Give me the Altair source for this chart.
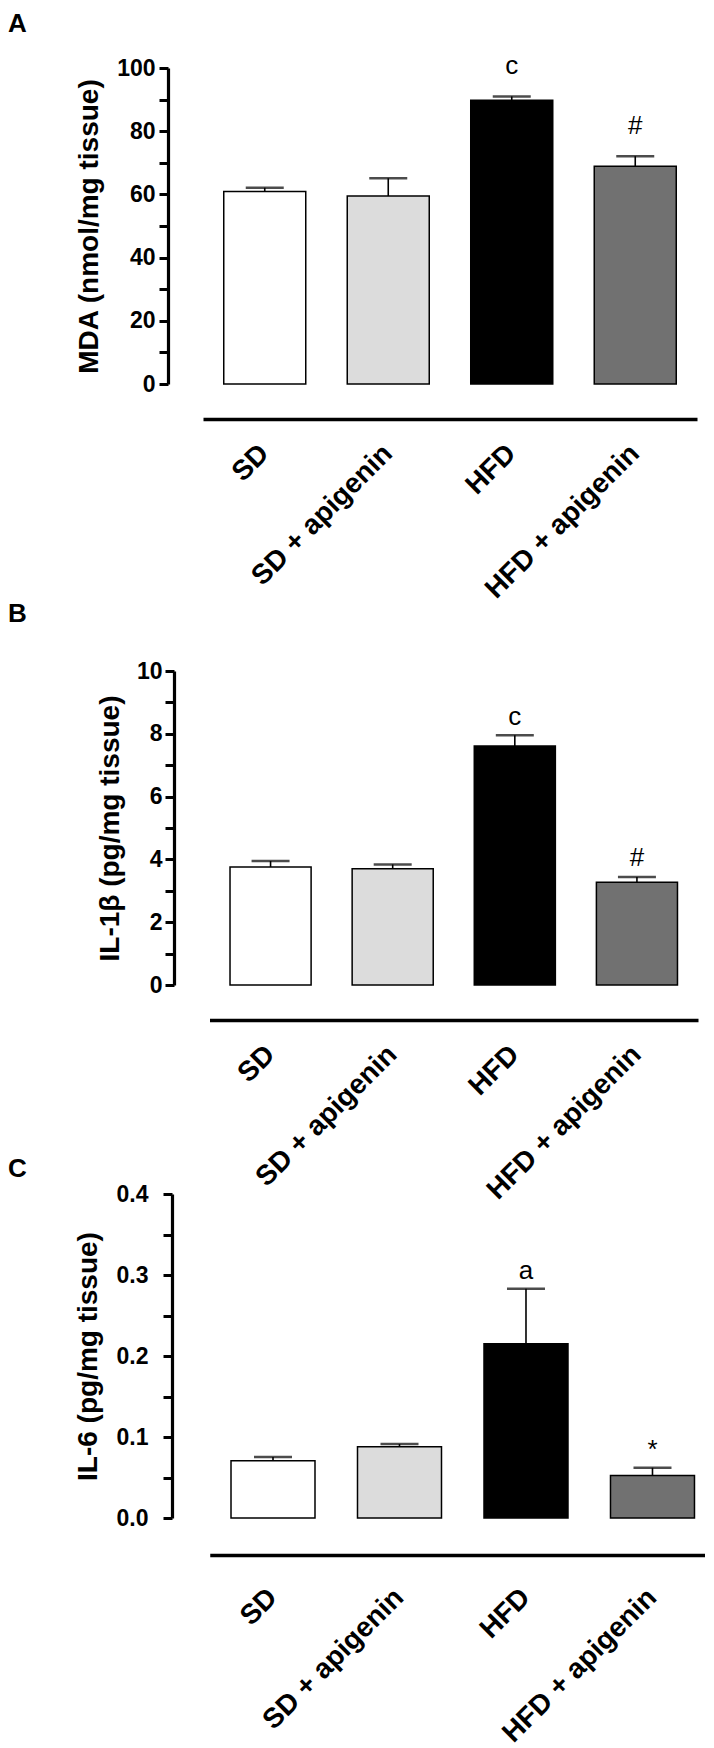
import altair as alt
import pandas as pd

groups = ["SD", "SD + apigenin", "HFD", "HFD + apigenin"]
fills = ["#ffffff", "#dcdcdc", "#000000", "#717171"]

mda_mean = [60.9, 59.5, 89.8, 68.9]
mda_sem = [1.2, 5.6, 1.2, 3.2]
mda_sig = ["", "", "c", "#"]

il1b_mean = [3.76, 3.70, 7.61, 3.27]
il1b_sem = [0.19, 0.14, 0.34, 0.17]
il1b_sig = ["", "", "c", "#"]

il6_mean = [0.0708, 0.088, 0.215, 0.0525]
il6_sem = [0.0046, 0.0033, 0.068, 0.0095]
il6_sig = ["", "", "a", "*"]

FONT = "Liberation Sans"


def panel(letter, mean, sem, sig, ytitle, ymax, ystep, lstep, fmt,
          height, yrange, width, xscale_kw, yoffset, xoffset, xlabel_pad,
          ylabel_pad, ytitle_pad, title_offset, title_dy, sig_dy):
    df = pd.DataFrame({
        "group": groups,
        "mean": mean,
        "top": [m + s for m, s in zip(mean, sem)],
        "sig": sig,
        "fill": fills,
    })
    n = int(round(ymax / ystep))
    vals = [round(i * ystep, 4) for i in range(n + 1)]
    xaxis = alt.Axis(
        title=None, labelAngle=-45, labelAlign="right", labelBaseline="middle",
        labelFont=FONT, labelFontSize=28, labelFontWeight="bold", labelColor="black",
        ticks=False, tickSize=0, labelPadding=xlabel_pad, offset=xoffset,
        domainColor="black", domainWidth=3.5, grid=False, labelOverlap=False,
        labelLimit=500,
    )
    x = alt.X("group:N", sort=groups, scale=alt.Scale(**xscale_kw), axis=xaxis)
    yaxis = alt.Axis(
        title=ytitle, values=vals, format=fmt,
        labelExpr=f"abs(datum.value/{lstep} - round(datum.value/{lstep})) < 0.001 ? datum.label : ''",
        offset=yoffset, domainColor="black", domainWidth=3.2, tickColor="black",
        tickWidth=3, tickSize=9, labelPadding=ylabel_pad, labelFont=FONT,
        labelFontSize=23, labelFontWeight="bold", labelColor="black",
        titleFont=FONT, titleFontSize=28, titleFontWeight="bold", titleColor="black",
        titlePadding=ytitle_pad, grid=False, labelOverlap=False,
    )
    yscale_kw = {"domain": [0, ymax], "nice": False, "zero": True}
    if yrange is not None:
        yscale_kw["range"] = yrange
    ysc = alt.Scale(**yscale_kw)
    base = alt.Chart(df)
    bars = base.mark_bar(stroke="black", strokeWidth=1.5).encode(
        x=x,
        y=alt.Y("mean:Q", scale=ysc, axis=yaxis),
        fill=alt.Fill("fill:N", scale=None),
    )
    rule = base.mark_rule(color="black", strokeWidth=1.6).encode(
        x=x, y=alt.Y("mean:Q", scale=ysc, axis=yaxis), y2="top:Q"
    )
    cap = base.mark_tick(color="black", thickness=2.5, size=38).encode(
        x=x, y=alt.Y("top:Q", scale=ysc, axis=yaxis)
    )
    txt = base.mark_text(font=FONT, fontSize=26, baseline="middle",
                         dy=sig_dy, color="black").encode(
        x=x, y=alt.Y("top:Q", scale=ysc, axis=yaxis), text="sig:N"
    )
    return alt.layer(bars, rule, cap, txt).properties(
        width=width, height=height,
        title=alt.TitleParams(letter, anchor="start", frame="group", dx=-195,
                              dy=title_dy, offset=title_offset, font=FONT,
                              fontSize=26, fontWeight="bold", color="black"),
    )


pA = panel("A", mda_mean, mda_sem, mda_sig, "MDA (nmol/mg tissue)", 100, 10, 20, "d",
           316, None, 494,
           {"paddingInner": 0.336, "paddingOuter": 0.168},
           35, 35, 30, 4, 13, 16, 0, -30)
pB = panel("B", il1b_mean, il1b_sem, il1b_sig, "IL-1β (pg/mg tissue)", 10, 1, 2, "d",
           392, [392, 78], 495,
           {"range": [6.5, 495], "paddingInner": 0.336, "paddingOuter": 0.168},
           29, 35, 30, 3, 12, 0, 34, -18.5)
pC = panel("C", il6_mean, il6_sem, il6_sig, "IL-6 (pg/mg tissue)", 0.4, 0.05, 0.1, ".1f",
           324, None, 502,
           {"range": [6.75, 502], "paddingInner": 0.336, "paddingOuter": 0.1256, "align": 0.669},
           31, 37, 38, 15, 14, 1, 0, -18)

chart = alt.vconcat(pA, pB, pC, spacing=209, bounds="flush").properties(
    padding={"top": 3, "left": 0, "right": 0, "bottom": 0}
).configure_view(stroke=None)

chart.save("out.html", embed_options={"renderer": "svg", "actions": False})
